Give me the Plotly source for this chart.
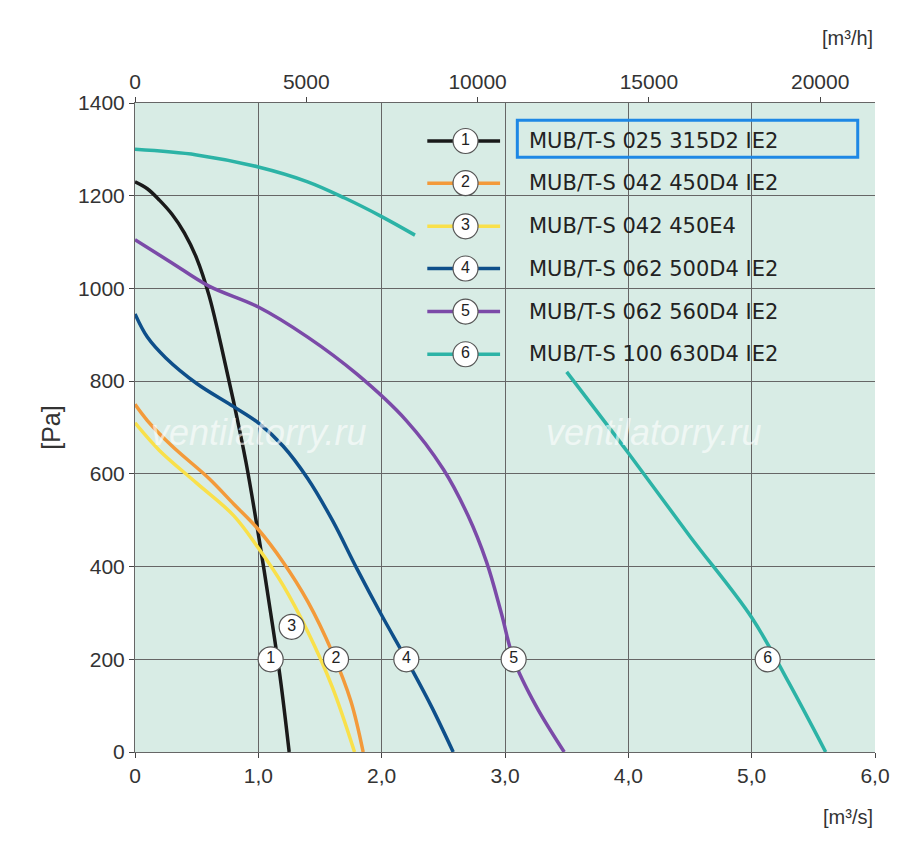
import plotly.graph_objects as go

# fan curves (flow in m3/s, pressure in Pa)
curves = {
    '1': dict(name='MUB/T-S 025 315D2 IE2', color='#1a1a1a',
              x=[0, 0.1, 0.2, 0.3, 0.4, 0.5, 0.6, 0.7, 0.8, 0.9, 1.0, 1.1, 1.18, 1.25],
              y=[1230, 1215, 1190, 1160, 1120, 1065, 985, 875, 755, 625, 470, 300, 155, 0]),
    '2': dict(name='MUB/T-S 042 450D4 IE2', color='#f39a3a',
              x=[0, 0.1, 0.3, 0.6, 0.8, 1.0, 1.2, 1.4, 1.6, 1.75, 1.85],
              y=[750, 715, 660, 590, 535, 480, 410, 325, 215, 110, 0]),
    '3': dict(name='MUB/T-S 042 450E4', color='#f9e04a',
              x=[0, 0.2, 0.5, 0.8, 1.0, 1.2, 1.4, 1.6, 1.78],
              y=[710, 650, 580, 510, 440, 360, 260, 140, 0]),
    '4': dict(name='MUB/T-S 062 500D4 IE2', color='#0e4f8a',
              x=[0, 0.1, 0.25, 0.5, 0.8, 1.0, 1.2, 1.4, 1.6, 1.8, 2.0, 2.2, 2.4, 2.58],
              y=[945, 895, 850, 795, 745, 710, 660, 590, 500, 395, 295, 200, 100, 0]),
    '5': dict(name='MUB/T-S 062 560D4 IE2', color='#7b4aa8',
              x=[0, 0.3, 0.6, 1.0, 1.4, 1.8, 2.2, 2.5, 2.7, 2.85, 2.97, 3.07, 3.25, 3.48],
              y=[1105, 1055, 1005, 960, 895, 815, 715, 610, 510, 410, 300, 200, 100, 0]),
    '6': dict(name='MUB/T-S 100 630D4 IE2', color='#2cb3a6',
              x=[0, 0.5, 1.0, 1.4, 1.7, 2.0, 2.27, None, 3.5, 4.0, 4.5, 5.0, 5.3, 5.6],
              y=[1300, 1288, 1262, 1230, 1195, 1155, 1115, None, 820, 645, 465, 290, 150, 0]),
}
# positions of the numbered markers on the curves
markers = {'1': (1.1, 200), '2': (1.63, 200), '3': (1.27, 270),
           '4': (2.2, 200), '5': (3.07, 200), '6': (5.13, 200)}
legend_y = [1318, 1227, 1134, 1043, 950, 858]

bg = '#d8ece5'
fig = go.Figure()
fig.add_shape(type='rect', x0=2.27, x1=6.0, y0=800, y1=1400, fillcolor=bg,
              line=dict(width=0), layer='below')
for (key, c), ly in zip(curves.items(), legend_y):
    fig.add_trace(go.Scatter(x=c['x'], y=c['y'], mode='lines', line_shape='spline',
                             line=dict(color=c['color'], width=3.5, smoothing=1.0),
                             connectgaps=False, showlegend=False))
    fig.add_trace(go.Scatter(x=[2.37, 2.96], y=[ly, ly], mode='lines', hoverinfo='skip',
                             line=dict(color=c['color'], width=3.5), showlegend=False))
    fig.add_annotation(x=3.18, y=ly, text=c['name'], showarrow=False, xanchor='left',
                       font=dict(size=21, color='#222', family='DejaVu Sans'))
# numbered circles on the curves and in the legend
mx = [p[0] for p in markers.values()] + [2.68] * 6
my = [p[1] for p in markers.values()] + legend_y
labels = list(markers.keys()) * 2
fig.add_trace(go.Scatter(x=mx, y=my, mode='markers+text', text=labels, showlegend=False,
                         marker=dict(size=25, color='white', line=dict(color='#555', width=1.2)),
                         textfont=dict(size=16, color='#222'), hoverinfo='skip'))
# invisible trace to create the top m3/h axis
fig.add_trace(go.Scatter(x=[0, 21600], y=[0, 0], xaxis='x2', mode='lines',
                         line=dict(width=0), showlegend=False, hoverinfo='skip'))

fig.add_shape(type='rect', x0=3.1, x1=5.86, y0=1283, y1=1363, layer='above',
              line=dict(color='#1e88e5', width=3))

for wx in [1.0, 4.2]:  # watermark
    fig.add_annotation(x=wx, y=690, text='<i>ventilatorry.ru</i>', showarrow=False,
                       font=dict(size=36, color='rgba(255,255,255,0.6)'))

fig.add_annotation(x=1, y=1.12, xref='paper', yref='paper', text='[m³/h]', showarrow=False,
                   xanchor='right', font=dict(size=20, color='#333'))
fig.add_annotation(x=1, y=-0.12, xref='paper', yref='paper', text='[m³/s]', showarrow=False,
                   xanchor='right', font=dict(size=20, color='#333'))

fig.update_layout(
    width=900, height=864, plot_bgcolor=bg, paper_bgcolor='white',
    margin=dict(l=127, r=33, t=95, b=120),
    font=dict(family='Arial', size=21, color='#333'),
    xaxis=dict(range=[0, 6], showgrid=True, gridcolor='#666',
               gridwidth=1, ticks='outside', showline=True, linecolor='#666', zeroline=False,
               tickvals=[0, 1, 2, 3, 4, 5, 6], ticktext=['0', '1,0', '2,0', '3,0', '4,0', '5,0', '6,0']),
    xaxis2=dict(range=[0, 21600], overlaying='x', side='top', dtick=5000, tickformat='d',
                showgrid=False, ticks='outside', showline=True, linecolor='#666'),
    yaxis=dict(range=[0, 1400], dtick=200, showgrid=True, gridcolor='#666', gridwidth=1,
               ticks='outside', showline=True, linecolor='#666', zeroline=False,
               title=dict(text='[Pa]', standoff=10)),
)
fig.write_html('out.html')
